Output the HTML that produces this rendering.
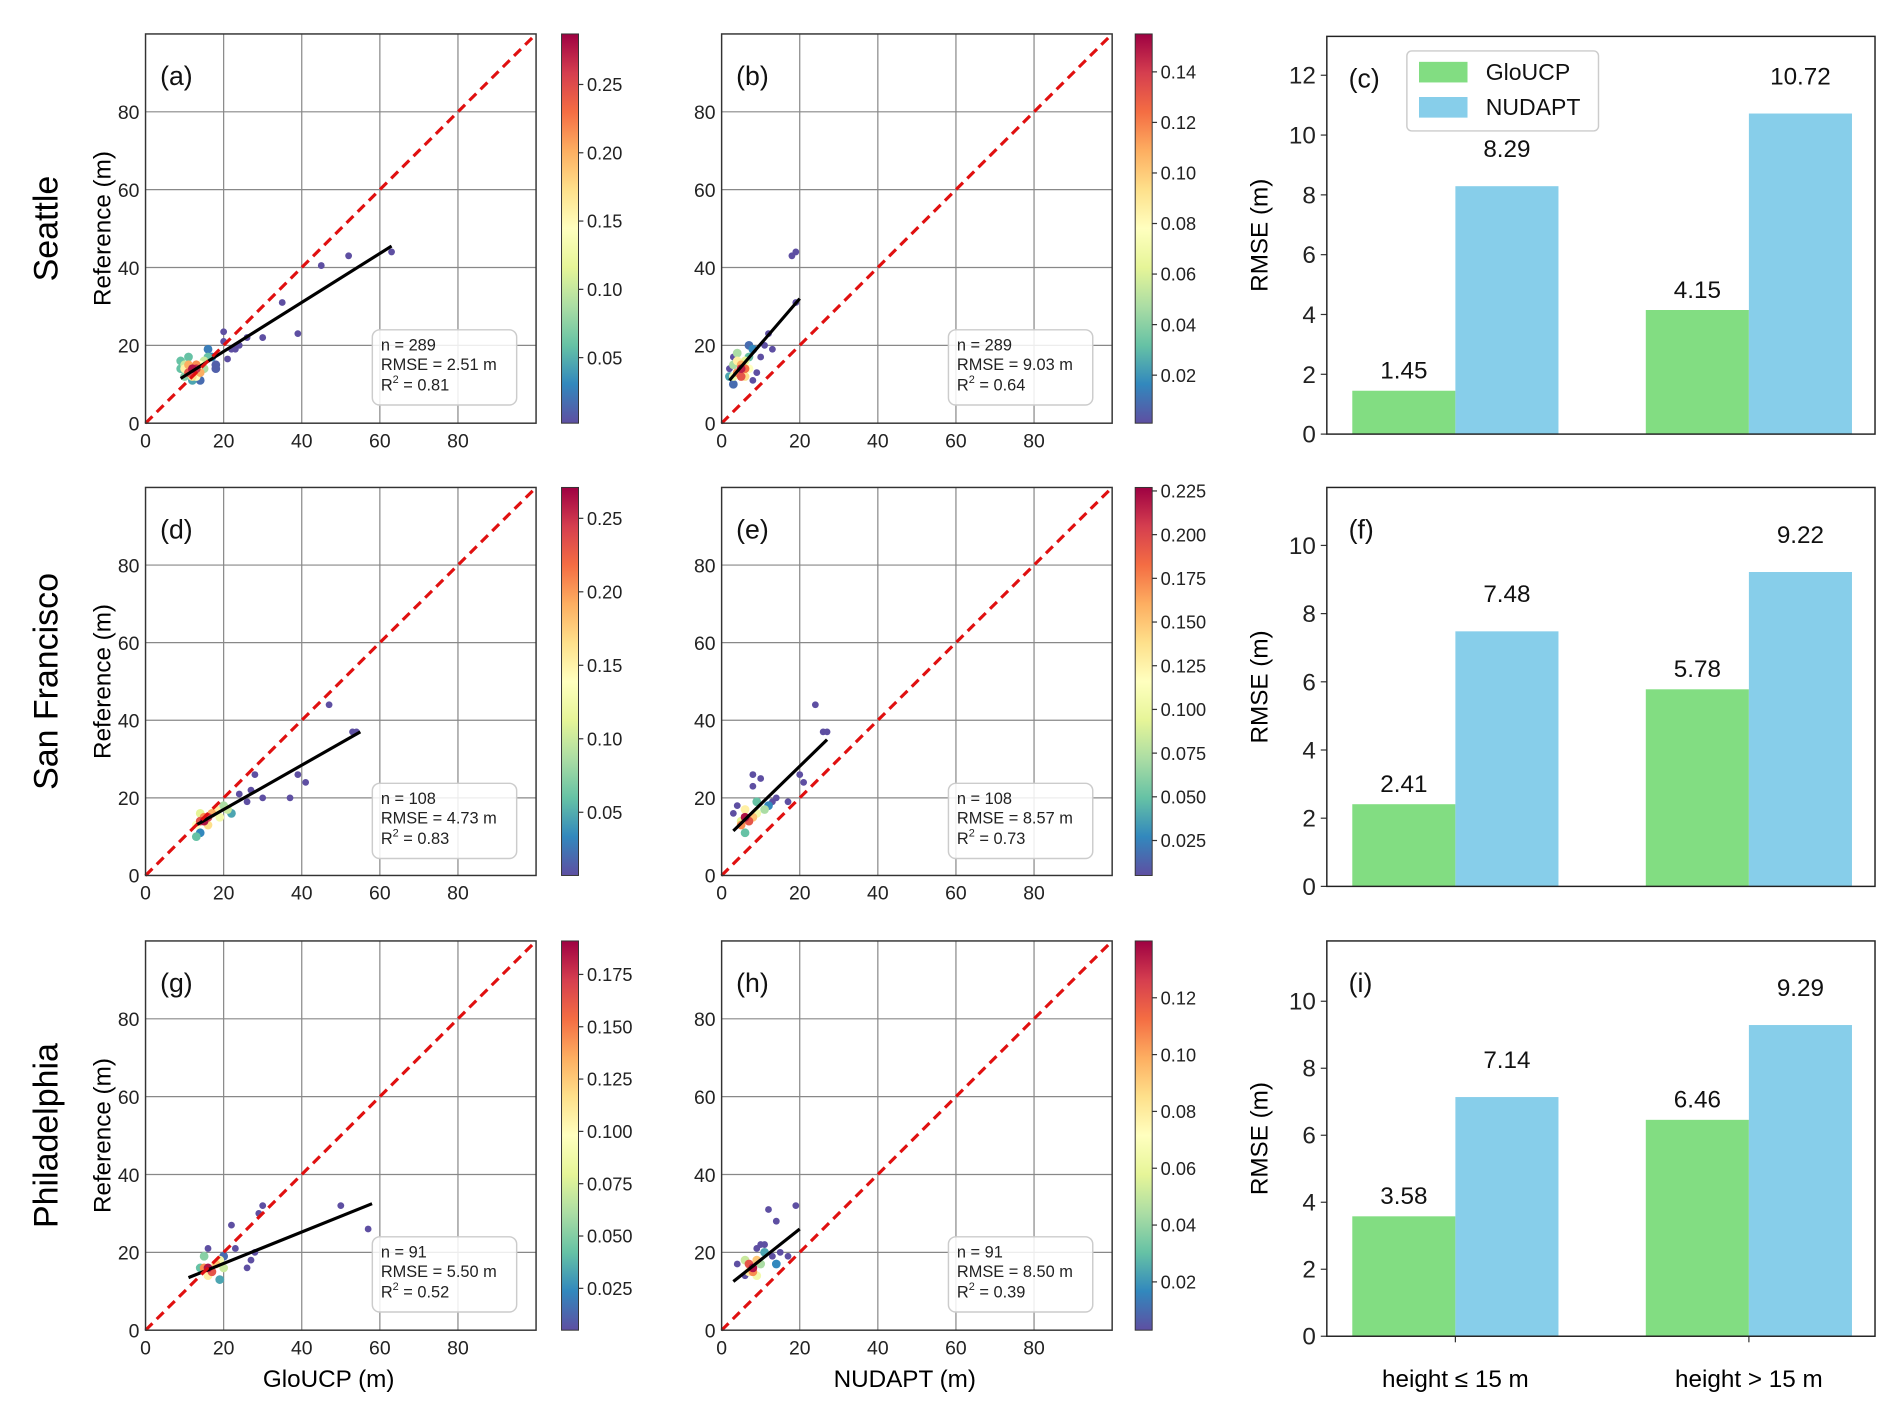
<!DOCTYPE html>
<html><head><meta charset="utf-8">
<style>
html,body{margin:0;padding:0;background:#fff;}
svg{display:block;font-family:"Liberation Sans",Arial,sans-serif;}
</style></head>
<body>
<svg id="fig" width="1892" height="1409" viewBox="0 0 1560 1162" preserveAspectRatio="none" xmlns="http://www.w3.org/2000/svg"></svg>
<script>
// ---------- data ----------
const rowNames = ["Seattle","San Francisco","Philadelphia"];
const barCategories = ["height \u2264 15 m","height > 15 m"];
const gloucpRmse = [[1.45,4.15],[2.41,5.78],[3.58,6.46]];
const nudaptRmse = [[8.29,10.72],[7.48,9.22],[7.14,9.29]];
const barYTicks = [[0,2,4,6,8,10,12],[0,2,4,6,8,10],[0,2,4,6,8,10]];
const barYMax = [13.3,11.7,11.8];
const scatterTicks = [0,20,40,60,80];
const statsN = ["289","289","108","108","91","91"];
const statsRmse = ["2.51","9.03","4.73","8.57","5.50","8.50"];
const statsR2 = ["0.81","0.64","0.83","0.73","0.52","0.39"];
const cbarMin = [0.002,0.001,0.007,0.005,0.005,0.003];
const cbarMax = [0.287,0.155,0.271,0.227,0.191,0.140];
const cbarTicks = [
 ["0.05","0.10","0.15","0.20","0.25"],
 ["0.02","0.04","0.06","0.08","0.10","0.12","0.14"],
 ["0.05","0.10","0.15","0.20","0.25"],
 ["0.025","0.050","0.075","0.100","0.125","0.150","0.175","0.200","0.225"],
 ["0.025","0.050","0.075","0.100","0.125","0.150","0.175"],
 ["0.02","0.04","0.06","0.08","0.10","0.12"]
];
const fitLines = [
 [9,11.5,63,45.5],[2,11,20,32],[13,13,55,37],[3,11.5,27,35],[11,13.5,58,32.5],[3,12.5,20,26]
];
// points: [x, y, density fraction of colorbar max]
const ptsA = [[20,23.5,0],[20,21,0],[22,19,0],[23,19,0],[21,16.5,0],[26,22,0],[30,22,0],[35,31,0],[39,23,0],[45,40.5,0],[52,43,0],[63,44,0],[24,20,0],[18,14,0.03],[18,15,0.03],[14,11,0.05],[17,17,0.1],[16,19,0.08],[12,11,0.15],[16,17,0.2],[11,17,0.2],[9,14,0.2],[9,16,0.2],[10,12,0.25],[15,14,0.3],[15,16,0.35],[10,15,0.35],[13,12,0.5],[14,15,0.5],[12,12,0.6],[10,14,0.55],[14,13,0.7],[11,15,0.7],[13,15,0.75],[11,13,0.85],[12,13,0.88],[13,14,0.92],[12,14,0.97]];
const ptsB = [[18,43,0],[19,44,0],[19,31,0],[12,23,0],[11,20,0],[13,19,0],[10,17,0],[3,17,0],[2,14,0],[9,13,0],[8,11,0],[3,10,0.05],[7,20,0.05],[8,19,0.1],[2,12,0.15],[7,17,0.2],[3,15,0.3],[4,18,0.3],[6,16,0.4],[3,12,0.45],[7,14,0.5],[4,16,0.55],[6,12,0.6],[5,15,0.7],[4,13,0.75],[6,14,0.8],[5,12,0.85],[5,14,0.95]];
const ptsD = [[47,44,0],[53,37,0],[54,37,0],[41,24,0],[39,26,0],[37,20,0],[28,26,0],[26,19,0],[27,22,0],[24,21,0],[30,20,0],[14,11,0.1],[22,16,0.15],[13,10,0.2],[20,18,0.3],[21,17,0.35],[14,16,0.4],[19,15,0.45],[13,13,0.5],[18,17,0.55],[16,13,0.6],[17,16,0.7],[15,15,0.75],[14,14,0.85],[16,15,0.9],[15,14,0.97]];
const ptsE = [[24,44,0],[26,37,0],[27,37,0],[21,24,0],[17,19,0],[8,26,0],[10,25,0],[4,18,0],[3,16,0],[8,23,0],[13,19,0],[14,20,0],[20,26,0],[12,18,0.1],[9,19,0.2],[6,11,0.2],[11,17,0.3],[5,14,0.4],[9,16,0.45],[6,17,0.55],[8,15,0.65],[5,13,0.75],[7,14,0.85],[6,15,0.97]];
const ptsG = [[50,32,0],[57,26,0],[30,32,0],[29,30,0],[22,27,0],[27,18,0],[26,16,0],[16,21,0],[23,21,0],[28,20,0],[20,19,0.05],[19,13,0.15],[14,16,0.2],[15,19,0.25],[20,16,0.35],[19,18,0.45],[16,14,0.55],[18,17,0.65],[15,16,0.75],[17,15,0.85],[16,16,0.97]];
const ptsH = [[12,31,0],[19,32,0],[14,28,0],[10,22,0],[17,19,0],[15,20,0],[4,17,0],[11,22,0],[9,21,0],[6,14,0],[13,19,0],[14,17,0.1],[11,20,0.15],[10,17,0.3],[6,18,0.35],[9,14,0.45],[7,15,0.55],[9,18,0.65],[8,15,0.75],[7,17,0.85],[8,16,0.97]];
const allPts = [ptsA,ptsB,ptsD,ptsE,ptsG,ptsH];

// ---------- helpers ----------
const NS="http://www.w3.org/2000/svg";
const svg=document.getElementById('fig');
function mk(tag,attrs,parent,text){const e=document.createElementNS(NS,tag);for(const k in attrs)e.setAttribute(k,attrs[k]);if(text!==undefined)e.textContent=text;(parent||svg).appendChild(e);return e;}
const spec=["#5e4fa2","#3288bd","#66c2a5","#abdda4","#e6f598","#ffffbf","#fee08b","#fdae61","#f46d43","#d53e4f","#9e0142"];
function cmap(t){t=Math.max(0,Math.min(1,t));const f=t*10,i=Math.min(9,Math.floor(f)),r=f-i;
 const a=spec[i],b=spec[i+1];const p=s=>[1,3,5].map(j=>parseInt(s.substr(j,2),16));
 const A=p(a),B=p(b);return "rgb("+A.map((v,k)=>Math.round(v+(B[k]-v)*r)).join(",")+")";}
const defs=mk('defs',{});
const g=mk('linearGradient',{id:'specgrad',x1:0,y1:1,x2:0,y2:0},defs);
spec.forEach((c,i)=>mk('stop',{offset:(i*10)+'%','stop-color':c},g));

const rowTop=[28,402,776], rowBot=[349,722,1097];
const colLeft=[120,595], colRight=[442,917];
const cbX=[463,936];
const letters=["a","b","c","d","e","f","g","h","i"];

for(let r=0;r<3;r++){
 const rl=mk('text',{x:40,y:(rowTop[r]+rowBot[r])/2,'font-size':28,'text-anchor':'middle',transform:`rotate(-90 40 ${(rowTop[r]+rowBot[r])/2})`,'dominant-baseline':'middle'},svg,rowNames[r]);
 
 
 for(let c=0;c<2;c++){
  const idx=r*2+c;
  const L=colLeft[c],R=colRight[c],T=rowTop[r],B=rowBot[r];
  const sx=v=>L+(R-L)*v/100, sy=v=>B-(B-T)*v/100;
  const pg=mk('g',{});
  
  
  mk('rect',{x:L,y:T,width:R-L,height:B-T,fill:'#fff'},pg);
  scatterTicks.forEach(t=>{
   if(t>0){mk('line',{x1:sx(t),x2:sx(t),y1:T,y2:B,stroke:'#888','stroke-width':1},pg);
   mk('line',{x1:L,x2:R,y1:sy(t),y2:sy(t),stroke:'#888','stroke-width':1},pg);}
   const xt=mk('text',{x:sx(t),y:B+20,'font-size':16,'text-anchor':'middle',fill:'#222'},pg,t);
   
   const yt=mk('text',{x:L-5,y:sy(t)+6,'font-size':16,'text-anchor':'end',fill:'#222'},pg,t);
   
  });
  const pts=allPts[idx].slice().sort((a,b)=>a[2]-b[2]);
  const cg=mk('g',{},pg);
  
  pts.forEach(p=>{const d=mk('circle',{cx:sx(p[0]),cy:sy(p[1]),r:p[2]>0?3.6:2.8,fill:cmap(p[2])},cg);
   });
  const f=fitLines[idx];
  const fl=mk('line',{x1:sx(f[0]),y1:sy(f[1]),x2:sx(f[2]),y2:sy(f[3]),stroke:'#000','stroke-width':2.6},pg);
  
  const ol=mk('line',{x1:sx(0),y1:sy(0),x2:sx(100),y2:sy(100),stroke:'#e01010','stroke-width':2.6,'stroke-dasharray':'8,5'},pg);
  
  mk('rect',{x:L,y:T,width:R-L,height:B-T,fill:'none',stroke:'#333','stroke-width':1.2},pg);
  mk('text',{x:L+12,y:T+42,'font-size':22,fill:'#111'},pg,'('+letters[r*3+c]+')');
  const bx=L+187,by=T+244;
  const sb=mk('g',{},pg);
  mk('rect',{x:bx,y:by,width:119,height:62,rx:6,fill:'#fff','fill-opacity':0.85,stroke:'#ccc','stroke-width':1.2},sb);
  mk('text',{x:bx+7,y:by+17,'font-size':13.5,fill:'#222'},sb,'n = '+statsN[idx]);
  mk('text',{x:bx+7,y:by+33,'font-size':13.5,fill:'#222'},sb,'RMSE = '+statsRmse[idx]+' m');
  const t3=mk('text',{x:bx+7,y:by+50,'font-size':13.5,fill:'#222'},sb);
  t3.innerHTML='R<tspan dy="-6" font-size="9">2</tspan><tspan dy="6"> = '+statsR2[idx]+'</tspan>';
  const cx=cbX[c];
  const cb=mk('g',{},pg);
  mk('rect',{x:cx,y:T,width:14,height:B-T,fill:'url(#specgrad)',stroke:'#333','stroke-width':0.8},cb);
  const mn=cbarMin[idx],mx=cbarMax[idx];
  cbarTicks[idx].forEach(s=>{const v=parseFloat(s);const y=B-(B-T)*(v-mn)/(mx-mn);
   mk('line',{x1:cx+14,x2:cx+18,y1:y,y2:y,stroke:'#333'},cb);
   mk('text',{x:cx+21,y:y+5.5,'font-size':15,fill:'#222'},cb,s);});
  if(c===0){const yl=mk('text',{x:86,y:(T+B)/2,'font-size':20,'text-anchor':'middle',transform:`rotate(-90 86 ${(T+B)/2})`,'dominant-baseline':'middle'},svg,'Reference (m)');
   }
  if(r===2){const xl=mk('text',{x:(L+R)/2-10,y:1144,'font-size':20,'text-anchor':'middle'},svg,c===0?'GloUCP (m)':'NUDAPT (m)');
   }
 }
 const bL=1094,bR=1546,bT=rowTop[r]+ (r===0?2:0),bB=[358,731,1102][r];
 const ys=v=>bB-(bB-bT)*v/barYMax[r];
 const bg=mk('g',{});
 barYTicks[r].forEach(t=>{mk('line',{x1:bL-5,x2:bL,y1:ys(t),y2:ys(t),stroke:'#333'},bg);
  mk('text',{x:bL-9,y:ys(t)+7,'font-size':20,'text-anchor':'end',fill:'#222'},bg,t);});
 const groupC=[1200,1442], bw=85;
 for(let k=0;k<2;k++){
  const v1=gloucpRmse[r][k],v2=nudaptRmse[r][k];
  const b1=mk('rect',{x:groupC[k]-bw,y:ys(v1),width:bw,height:bB-ys(v1),fill:'#82dd82'},bg);
  
  const b2=mk('rect',{x:groupC[k],y:ys(v2),width:bw,height:bB-ys(v2),fill:'#87ceea'},bg);
  
  mk('text',{x:groupC[k]-bw/2,y:ys(v1)-10,'font-size':20,'text-anchor':'middle',fill:'#111'},bg,v1.toFixed(2));
  mk('text',{x:groupC[k]+bw/2,y:ys(v2)-24,'font-size':20,'text-anchor':'middle',fill:'#111'},bg,v2.toFixed(2));
  if(r===2){const xl=mk('text',{x:groupC[k],y:1144,'font-size':20,'text-anchor':'middle'},bg,barCategories[k]);
   
   mk('line',{x1:groupC[k],x2:groupC[k],y1:bB,y2:bB+5,stroke:'#333'},bg);}
 }
 mk('rect',{x:bL,y:bT,width:bR-bL,height:bB-bT,fill:'none',stroke:'#222','stroke-width':1.2},bg);
 mk('text',{x:bL+18,y:bT+42,'font-size':22,fill:'#111'},bg,'('+letters[r*3+2]+')');
 const yl=mk('text',{x:1040,y:(bT+bB)/2,'font-size':20,'text-anchor':'middle',transform:`rotate(-90 1040 ${(bT+bB)/2})`,'dominant-baseline':'middle'},svg,'RMSE (m)');
 
 if(r===0){
  const lg=mk('g',{});
  mk('rect',{x:1160,y:42,width:158,height:66,rx:4,fill:'#fff',stroke:'#ccc','stroke-width':1.2},lg);
  mk('rect',{x:1170,y:51,width:40,height:17,fill:'#82dd82'},lg);
  mk('rect',{x:1170,y:80,width:40,height:17,fill:'#87ceea'},lg);
  mk('text',{x:1225,y:66,'font-size':19,fill:'#111'},lg,'GloUCP');
  mk('text',{x:1225,y:95,'font-size':19,fill:'#111'},lg,'NUDAPT');
 }
}
</script>
</body></html>
